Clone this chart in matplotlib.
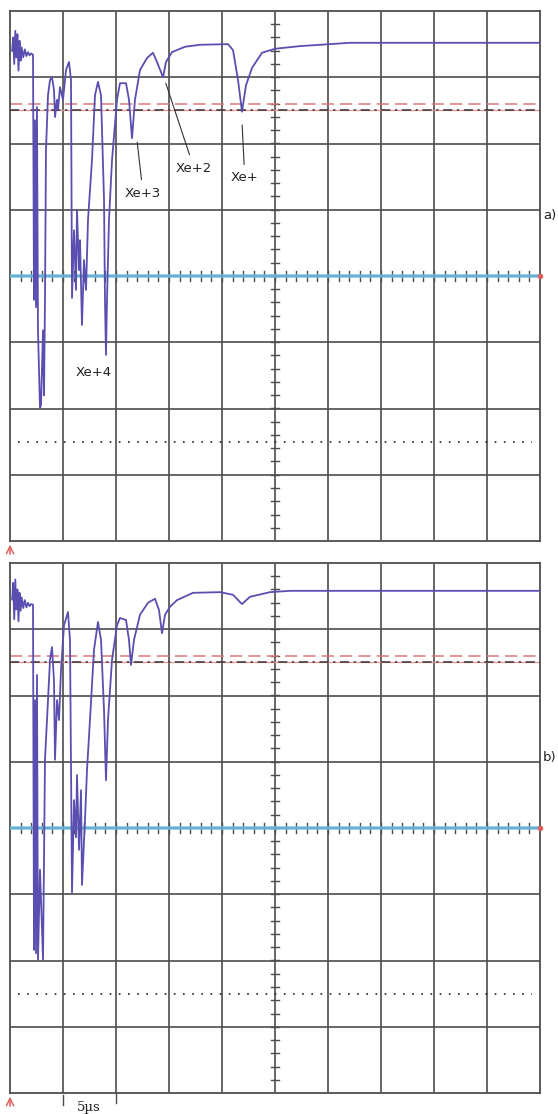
import numpy as np
import matplotlib.pyplot as plt

# Oscilloscope traces, x in divisions (5 us/div), y in divisions
# --- panel a) ---
a_t = [0.04, 0.06, 0.08, 0.10, 0.12, 0.14, 0.16, 0.18, 0.20, 0.22, 0.25, 0.28, 0.31,
       0.34, 0.37, 0.40, 0.434, 0.453, 0.472, 0.491, 0.509, 0.528, 0.566, 0.585, 0.623,
       0.642, 0.660, 0.679, 0.717, 0.755, 0.792, 0.830, 0.849, 0.887, 0.906, 0.943, 1.0,
       1.057, 1.113, 1.151, 1.170, 1.208, 1.245, 1.264, 1.302, 1.321, 1.358, 1.396,
       1.434, 1.472, 1.547, 1.604, 1.660, 1.717, 1.774, 1.792, 1.811, 1.830, 1.868,
       1.925, 2.019, 2.075, 2.189, 2.245, 2.302, 2.358, 2.453, 2.585, 2.698, 2.774,
       2.887, 2.943, 3.057, 3.302, 3.585, 4.113, 4.208, 4.302, 4.377, 4.453, 4.566,
       4.755, 5.0, 5.472, 6.415, 10.0]
a_v = [3.40, 3.60, 3.20, 3.70, 3.30, 3.65, 3.10, 3.55, 3.25, 3.45, 3.30, 3.42, 3.32,
       3.38, 3.33, 3.36, 3.34, -0.36, 2.35, -0.47, 2.55, -0.82, -1.99, -1.95, -0.82,
       -1.80, -0.36, 1.90, 2.73, 2.96, 3.00, 2.81, 2.40, 2.66, 2.51, 2.85, 2.66,
       3.11, 3.23, 2.96, -0.33, 0.69, -0.21, 1.00, 0.09, 0.54, -0.74, 0.24,
       -0.21, 0.85, 1.75, 2.73, 2.93, 2.73, 1.15, -0.36, -1.19, -0.36, 0.85,
       1.75, 2.66, 2.91, 2.91, 2.66, 2.08, 2.66, 3.11, 3.29, 3.37, 3.23,
       3.00, 3.23, 3.38, 3.46, 3.49, 3.50, 3.41, 2.96, 2.48, 2.88, 3.14,
       3.37, 3.43, 3.47, 3.52, 3.52]

# --- panel b) ---
b_t = [0.04, 0.06, 0.08, 0.10, 0.12, 0.14, 0.16, 0.18, 0.20, 0.22, 0.25, 0.28, 0.31,
       0.34, 0.37, 0.40, 0.434, 0.453, 0.472, 0.491, 0.509, 0.528, 0.566, 0.623, 0.660,
       0.717, 0.755, 0.792, 0.830, 0.849, 0.887, 0.925, 0.962, 1.019, 1.094, 1.132,
       1.170, 1.208, 1.245, 1.264, 1.302, 1.340, 1.358, 1.415, 1.453, 1.509, 1.585,
       1.660, 1.717, 1.774, 1.811, 1.849, 1.925, 2.019, 2.075, 2.189, 2.245, 2.283,
       2.340, 2.453, 2.604, 2.736, 2.811, 2.868, 2.925, 3.019, 3.151, 3.453, 3.962,
       4.208, 4.377, 4.528, 4.906, 5.283, 10.0]
b_v = [3.45, 3.70, 3.15, 3.75, 3.30, 3.60, 3.12, 3.55, 3.28, 3.48, 3.32, 3.44, 3.33,
       3.40, 3.35, 3.38, 3.37, -1.84, 1.93, -1.89, 2.31, -1.99, -0.63, -1.99, 1.03,
       1.93, 2.54, 2.73, 2.23, 1.03, 1.93, 1.63, 2.38, 3.06, 3.26, 2.84,
       -0.97, 0.42, -0.14, 0.80, -0.33, 0.57, -0.86, 0.12, 0.88, 1.63, 2.69,
       3.11, 2.84, 1.78, 0.72, 1.63, 2.54, 3.06, 3.17, 3.14, 2.84, 2.46,
       2.84, 3.22, 3.40, 3.46, 3.29, 2.94, 3.22, 3.34, 3.44, 3.55, 3.56,
       3.52, 3.38, 3.49, 3.56, 3.58, 3.58]

# cursor / reference levels (divisions)
level_dash = 2.6
level_dashdot = 2.5
level_dot = -2.5

# peak labels in panel a: (text, text x, text y, line end x, line end y)
peaks = [("Xe+3", 2.51, 1.25, 2.40, 2.02),
         ("Xe+2", 3.47, 1.63, 2.94, 2.91),
         ("Xe+", 4.43, 1.48, 4.38, 2.28)]

grid_col = '#4d4d4d'
trace_col = '#5a4fb0'
base_col = '#6cbde3'

fig = plt.figure(figsize=(5.58, 11.14), dpi=100)
ax_a = fig.add_axes([10/558, 1-541/1114, 530/558, 530/1114])
ax_b = fig.add_axes([10/558, 1-1093/1114, 530/558, 530/1114])


def scope_screen(ax):
    ax.set_xlim(0, 10)
    ax.set_ylim(-4, 4)
    ax.set_xticks([])
    ax.set_yticks([])
    for s in ax.spines.values():
        s.set_color(grid_col)
        s.set_linewidth(1.3)
    for i in range(1, 10):
        ax.axvline(i, color=grid_col, lw=1.2, zorder=1)
    for j in range(-3, 4):
        ax.axhline(j, color=grid_col, lw=1.2, zorder=1)
    # minor ticks on the centre axes
    for t in np.arange(0.2, 10, 0.2):
        ax.plot([t, t], [-0.08, 0.08], color=grid_col, lw=1.0, zorder=2)
    for t in np.arange(-3.8, 4, 0.2):
        ax.plot([4.92, 5.08], [t, t], color=grid_col, lw=1.0, zorder=2)
    # reference levels
    ax.axhline(level_dash, color='#d9797a', lw=1.1, dashes=(8, 4), zorder=2)
    ax.axhline(level_dashdot, color='#e39090', lw=0.9, zorder=2)
    ax.axhline(level_dashdot, color='#333333', lw=1.1, dashes=(6, 3, 1.5, 3), zorder=2)
    ax.axhline(level_dot, xmin=0.015, xmax=0.985, color='#222222', lw=1.2,
               dashes=(1, 4.5), zorder=2)
    # channel 2 baseline
    ax.axhline(0, color=base_col, lw=2.6, alpha=0.85, zorder=3)
    ax.plot([10], [0], marker='o', ms=3, color='#e06060', clip_on=False, zorder=4)


scope_screen(ax_a)
scope_screen(ax_b)

ax_a.plot(a_t, a_v, color=trace_col, lw=1.3, zorder=5)
ax_b.plot(b_t, b_v, color=trace_col, lw=1.3, zorder=5)

for txt, tx, ty, lx, ly in peaks:
    ax_a.annotate(txt, xy=(lx, ly), xytext=(tx, ty), ha='center', va='center',
                  fontsize=9.5, color='#222222',
                  arrowprops=dict(arrowstyle='-', color='#333333', lw=0.8,
                                  shrinkA=3, shrinkB=0))
ax_a.text(1.57, -1.45, "Xe+4", ha='center', va='center', fontsize=9.5, color='#222222')

fig.text(543/558, 1-215/1114, "a)", ha='left', va='center', fontsize=9.5, color='#222222')
fig.text(543/558, 1-758/1114, "b)", ha='left', va='center', fontsize=9.5, color='#222222')

# trigger arrows under the screens
for y_px in (541, 1093):
    fig.patches.append(plt.matplotlib.patches.FancyArrowPatch(
        (10/558, 1-(y_px+16)/1114), (10/558, 1-(y_px+1)/1114),
        transform=fig.transFigure, arrowstyle='->', mutation_scale=13,
        color='#e06060', lw=1.1))

# time scale marker
ax_b.plot([1, 1], [-4.03, -4.18], color=grid_col, lw=1.0, clip_on=False)
ax_b.plot([2, 2], [-4.0, -4.15], color=grid_col, lw=1.0, clip_on=False)
fig.text(89/558, 1-1108/1114, "5\u00b5s", ha='center', va='center', fontsize=9.5,
         family='DejaVu Serif', color='#222222')

fig.savefig('out.png', dpi=100, facecolor='white')
